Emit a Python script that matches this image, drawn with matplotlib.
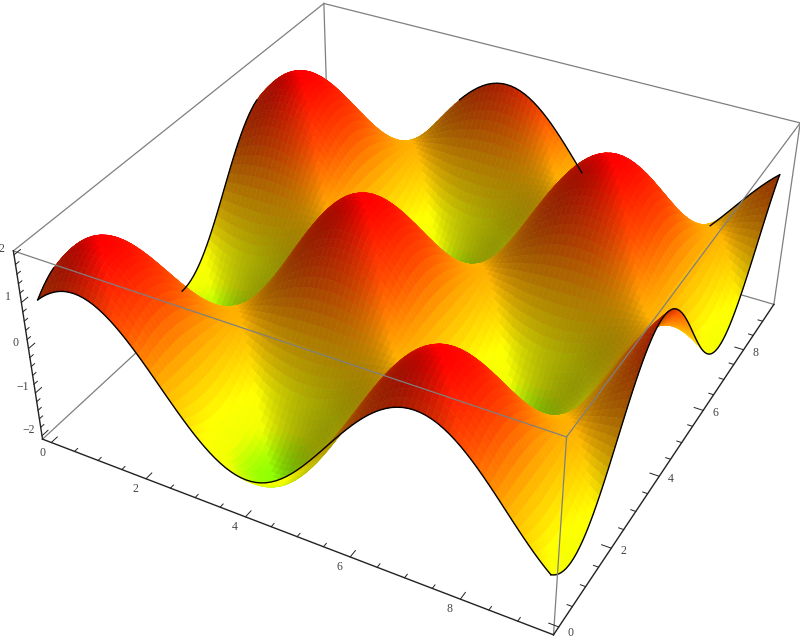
import matplotlib
matplotlib.use('Agg')
import matplotlib.pyplot as plt
import matplotlib.colors as mcolors
import numpy as np

# height along an edge of the sheet, one value every pi/32
edge_profile = [1.0, 1.093, 1.176, 1.247, 1.307, 1.353, 1.387, 1.407, 1.414,
    1.407, 1.387, 1.353, 1.307, 1.247, 1.176, 1.093, 1.0, 0.897, 0.786, 0.667, 0.541, 0.411, 0.276, 0.139, 0.0,
    -0.139, -0.276, -0.411, -0.541, -0.667, -0.786, -0.897, -1.0, -1.093, -1.176, -1.247, -1.307, -1.353, -1.387, -1.407, -1.414,
    -1.407, -1.387, -1.353, -1.307, -1.247, -1.176, -1.093, -1.0, -0.897, -0.786, -0.667, -0.541, -0.411, -0.276, -0.139, 0.0,
    0.139, 0.276, 0.411, 0.541, 0.667, 0.786, 0.897, 1.0, 1.093, 1.176, 1.247, 1.307, 1.353, 1.387, 1.407, 1.414,
    1.407, 1.387, 1.353, 1.307, 1.247, 1.176, 1.093, 1.0, 0.897, 0.786, 0.667, 0.541, 0.411, 0.276, 0.139, 0.0,
    -0.139, -0.276, -0.411, -0.541, -0.667, -0.786, -0.897, -1.0]
x_major = [0, 2, 4, 6, 8]
y_major = [0, 2, 4, 6, 8]
z_major = [-2, -1, 0, 1, 2]

# colour by height
hue_z = [-2.0, -1.5, -1.0, 0.0, 1.0, 2.0]
hue_h = [0.24, 0.175, 0.167, 0.115, 0.05, 0.0]

xmin, xmax = -0.19, 9.61
zmin, zmax = -2.08, 2.08

# box corners (data) and where they sit in the picture (pixels)
box_data = [(xmin, xmin, zmin), (xmax, xmin, zmin), (xmax, xmax, zmin), (xmin, xmax, zmin),
            (xmin, xmin, zmax), (xmax, xmin, zmax), (xmax, xmax, zmax), (xmin, xmax, zmax)]
box_px = [(42, 437), (553, 635), (776, 300), (328, 180),
          (14, 250), (567, 440), (798, 125), (325, 0)]


def fit_camera(pts, px):
    rows = []
    for (x, y, z), (u, v) in zip(pts, px):
        rows.append([x, y, z, 1, 0, 0, 0, 0, -u*x, -u*y, -u*z, -u])
        rows.append([0, 0, 0, 0, x, y, z, 1, -v*x, -v*y, -v*z, -v])
    P = np.linalg.svd(np.array(rows, float))[2][-1].reshape(3, 4)
    if P[2] @ np.array([4, 4, 0, 1]) < 0:
        P = -P
    # 3rd row only gives the depth order, far = larger
    return np.array([P[0], P[1], [0, 0, 0, -1], P[2]])


M = fit_camera(box_data, box_px)

fig = plt.figure(figsize=(8, 6.4), dpi=100)
ax = fig.add_axes([0, 0, 1, 1], projection='3d', computed_zorder=False)
ax.set_axis_off()
ax.set_proj_type('ortho')  # else lines get clipped to -1..1
ax.get_proj = lambda: M
ax.apply_aspect = lambda position=None: None
ax.viewLim.intervalx = (0, 800)
ax.viewLim.intervaly = (640, 0)

profile = np.array(edge_profile)
t = np.arange(len(profile))*np.pi/32
X, Y = np.meshgrid(t, t, indexing='ij')
Z = np.outer(profile, profile)


def to_faces(a):
    return (a[:-1, :-1] + a[1:, :-1] + a[:-1, 1:] + a[1:, 1:])/4


# hue from height, slopes turned away from the back right corner get darker
fx, fy = np.gradient(Z, t, t)
away = (fx + fy)/np.sqrt(1 + fx**2 + fy**2)
light = np.clip(1 - 0.36*np.clip(to_faces(away), 0, None), 0.45, 1)
hue = np.interp(to_faces(Z), hue_z, hue_h)
hsv = np.dstack([hue, np.ones_like(hue), light])
colors = mcolors.hsv_to_rgb(hsv)

ax.plot_surface(X, Y, Z, facecolors=colors, rstride=1, cstride=1, shade=False,
                linewidth=0.4, antialiased=True, zorder=2)

grey = '#7f7f7f'
dark = '#222222'


def edge(a, b, c=grey, z=1, lw=0.9):
    ax.plot(*zip(box_data[a], box_data[b]), color=c, lw=lw, zorder=z)


# back of the box, then front of it
for a, b in [(0, 3), (3, 2), (4, 7), (7, 6), (3, 7), (2, 6)]:
    edge(a, b)
for a, b in [(4, 5), (5, 6), (1, 5)]:
    edge(a, b, z=4)
for a, b in [(0, 1), (1, 2), (0, 4)]:
    edge(a, b, c=dark, z=4, lw=1.0)

# black border of the sheet, only the visible stretches
n = len(t) - 1
ax.plot(t, t*0, Z[:, 0], color='k', lw=1.0, zorder=3)
ax.plot(t*0 + t[n], t, Z[n, :], color='k', lw=1.0, zorder=3)
for a, b in [(0, 6), (40, 70)]:
    ax.plot(t[a:b]*0, t[a:b], Z[0, a:b], color='k', lw=1.0, zorder=3)
for a, b in [(30, 58), (84, n + 1)]:
    ax.plot(t[a:b], t[a:b]*0 + t[n], Z[a:b, n], color='k', lw=1.0, zorder=3)


def to_px(x, y, z):
    p = M @ np.array([x, y, z, 1.0])
    return p[0]/p[3], p[1]/p[3]


font = dict(family='Liberation Serif', fontsize=8.5, color='#444444', ha='center', va='center')

for v in np.arange(0, 9.5, 0.5):
    d = 0.17 if v in x_major else 0.09
    ax.plot([v, v], [xmin, xmin + d], [zmin, zmin], color=dark, lw=0.7, zorder=4)
    ax.plot([xmax, xmax - d], [v, v], [zmin, zmin], color=dark, lw=0.7, zorder=4)
for v in np.arange(-10, 11)/5:
    d = 0.17 if v in z_major else 0.09
    ax.plot([xmin, xmin], [xmin, xmin + d], [v, v], color=dark, lw=0.7, zorder=4)

for v in x_major:
    px, py = to_px(v, xmin, zmin)
    ax.text2D(px + (-11 if v else -9), py + 10, str(v), **font)
for v in y_major:
    px, py = to_px(xmax, v, zmin)
    ax.text2D(px + (12 if v else 12), py + (3 if v else 6), str(v), **font)
for v in z_major:
    px, py = to_px(xmin, xmin, v)
    ax.text2D(px - 13, py - 6, str(v).replace('-', '\u2212'), **font)

fig.savefig('out.png', dpi=100)
